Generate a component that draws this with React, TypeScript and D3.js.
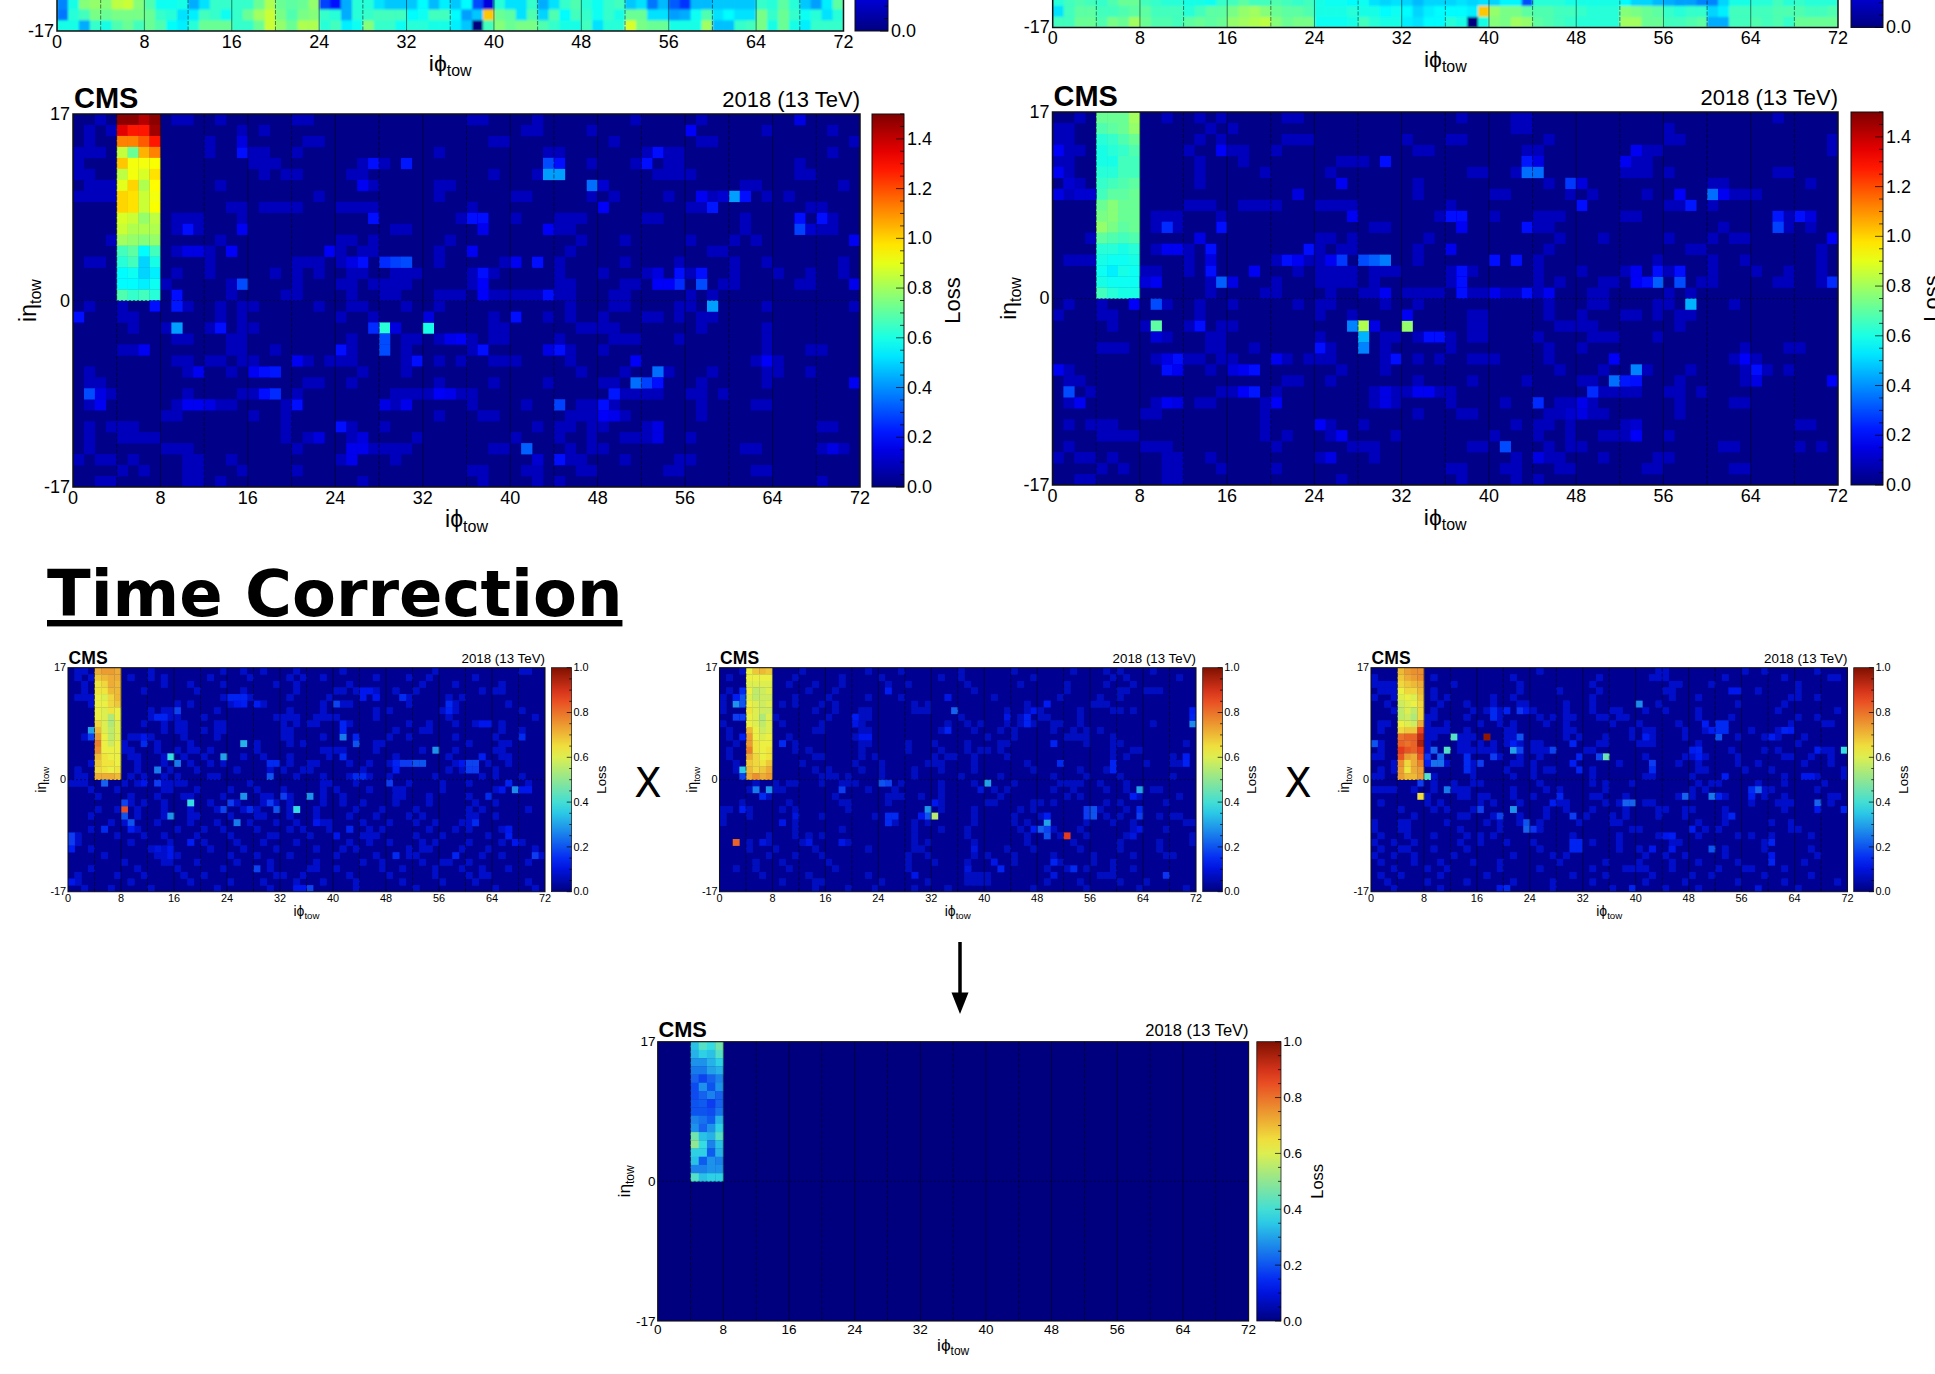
import React from "react";
import * as d3 from "d3";

type Cell = [number, number, number]; // iphi bin, row counted from the top, loss

const PHI_TICKS = [0, 8, 16, 24, 32, 40, 48, 56, 64, 72];
const ETA_TICKS = [17, 0, -17];
const GRID_PHI = d3.range(4, 72, 4);
const YEAR_LABEL = "2018 (13 TeV)";

// top strips: only the three lowest rows of these two maps are in the picture
const stripLeftRow33 = [.6,.6,.44,.64,.6,.68,.72,.66,.72,.68,.57,.54,.62,.72,.72,.72,.64,.64,.72,.86,.78,.72,.82,.82,.62,.66,.54,.58,.76,.64,.64,.58,.62,.62,.6,.6,.54,.48,0,.66,.76,.72,.74,.74,.68,.64,.6,.6,.66,.52,.62,.62,.88,.74,.72,.72,.6,.6,.6,.8,.47,.47,.64,.66,.74,.6,.72,.6,.54,.64,.64,.64];
const stripLeftRow32 = [.36,.62,.66,.74,.72,.74,.74,.74,.72,.64,.62,.52,.54,.66,.64,.58,.64,.72,.8,.86,.74,.68,.74,.76,.64,.62,.44,.62,.64,.66,.66,.66,.56,.58,.66,.66,.56,.42,.48,1.02,.72,.7,.52,.68,.5,.68,.56,.66,.64,.58,.64,.6,.72,.72,.52,.52,.42,.44,.58,.68,.52,.56,.52,.52,.74,.64,.72,.64,.58,.62,.52,.62];
const stripLeftRow31 = [.38,.6,.76,.78,.76,.84,.86,.76,.68,.58,.58,.6,.44,.52,.64,.64,.64,.64,.72,.82,.72,.7,.72,.78,.28,.2,.44,.62,.62,.52,.48,.48,.48,.56,.46,.54,.48,.56,.3,.14,.62,.52,.52,.64,.44,.52,.64,.68,.62,.58,.64,.66,.48,.52,.36,.46,.32,.26,.46,.46,.48,.48,.48,.48,.64,.62,.7,.62,.48,.42,.54,.7];

const stripRightRow33 = [.66,.66,.72,.72,.68,.74,.72,.8,.72,.68,.68,.66,.7,.72,.7,.72,.78,.8,.82,.84,.76,.72,.74,.74,.58,.58,.58,.6,.66,.62,.6,.6,.54,.52,.56,.56,.62,.6,0,.6,.76,.74,.8,.78,.7,.68,.66,.64,.62,.62,.62,.62,.8,.8,.72,.72,.66,.66,.68,.7,.44,.44,.66,.66,.68,.66,.68,.64,.72,.72,.72,.72];
const stripRightRow32 = [.52,.66,.7,.7,.66,.66,.68,.7,.7,.66,.66,.66,.62,.66,.7,.7,.74,.78,.8,.76,.72,.7,.7,.68,.6,.6,.6,.62,.6,.6,.56,.58,.56,.5,.54,.56,.56,.56,.54,1.02,.78,.74,.74,.7,.68,.68,.66,.66,.64,.62,.62,.62,.76,.74,.72,.7,.64,.62,.64,.64,.5,.54,.66,.66,.66,.66,.68,.68,.68,.66,.66,.68];
const stripRightRow31 = [.62,.66,.68,.66,.64,.68,.72,.72,.66,.64,.62,.62,.6,.6,.58,.64,.66,.7,.66,.66,.68,.66,.64,.66,.6,.58,.58,.56,.58,.52,.5,.52,.5,.46,.5,.5,.5,.52,.5,.52,.5,.55,.55,.3,.62,.62,.62,.6,.6,.6,.6,.6,.56,.5,.5,.46,.44,.42,.42,.38,.38,.5,.6,.6,.62,.62,.66,.62,.64,.62,.62,.62];

// the 4 x 17 block at iphi 4-8, eta 0-17, top row first
const blockA = [[1.48,1.48,1.42,1.48],[1.35,1.28,1.28,1.45],[1.12,1.12,1.18,1.28],[.85,.72,1.05,1.12],[1.02,.92,.92,.93],[.84,.92,.88,.98],[.9,1,.82,.94],[1,.98,.86,.92],[1,.98,.86,.93],[.88,.86,.78,.84],[.86,.82,.82,.82],[.8,.78,.76,.78],[.66,.7,.56,.66],[.62,.66,.5,.6],[.56,.58,.5,.54],[.56,.56,.54,.58],[.68,.64,.66,.62]];
const blockD = [[.72,.72,.72,.8],[.68,.7,.72,.78],[.62,.64,.68,.72],[.6,.62,.64,.68],[.6,.6,.66,.66],[.62,.62,.66,.66],[.64,.66,.68,.7],[.66,.7,.7,.72],[.72,.76,.72,.72],[.74,.76,.72,.72],[.78,.74,.7,.72],[.7,.68,.66,.68],[.62,.62,.6,.62],[.6,.58,.58,.6],[.58,.54,.6,.58],[.6,.58,.58,.58],[.66,.62,.6,.6]];
const blockB1 = [[.72,.74,.74,.72],[.68,.7,.72,.72],[.64,.66,.72,.7],[.64,.64,.7,.7],[.62,.6,.66,.7],[.62,.62,.66,.68],[.62,.6,.64,.62],[.62,.6,.54,.62],[.66,.6,.54,.6],[.7,.6,.56,.6],[.74,.62,.56,.6],[.78,.62,.58,.62],[.76,.62,.62,.62],[.7,.64,.62,.62],[.68,.64,.64,.62],[.66,.64,.62,.64],[.72,.72,.72,.7]];
const blockB2 = [[.62,.68,.7,.68],[.62,.62,.62,.62],[.6,.6,.6,.6],[.62,.56,.58,.6],[.6,.56,.58,.58],[.62,.6,.58,.6],[.64,.6,.58,.58],[.62,.6,.54,.6],[.62,.6,.56,.6],[.7,.62,.58,.6],[.74,.62,.6,.62],[.74,.64,.62,.62],[.78,.64,.62,.64],[.72,.66,.62,.64],[.68,.66,.64,.68],[.7,.66,.68,.72],[.72,.76,.72,.74]];
const blockB3 = [[.7,.74,.76,.76],[.68,.72,.74,.76],[.66,.68,.7,.72],[.62,.66,.66,.7],[.6,.62,.6,.68],[.58,.6,.62,.66],[.56,.6,.56,.66],[.56,.58,.54,.66],[.62,.6,.58,.72],[.66,.68,.68,.86],[.8,.82,.82,.92],[.82,.8,.82,.95],[.88,.84,.82,.88],[.84,.74,.72,.84],[.76,.66,.72,.78],[.74,.64,.72,.74],[.74,.7,.7,.74]];
const blockC = [[.34,.42,.38,.46],[.32,.36,.34,.42],[.28,.28,.32,.36],[.25,.25,.3,.32],[.22,.18,.22,.26],[.19,.28,.2,.28],[.19,.22,.26,.22],[.2,.21,.17,.22],[.2,.2,.19,.24],[.26,.24,.21,.32],[.28,.22,.28,.36],[.46,.34,.32,.42],[.5,.38,.26,.34],[.36,.36,.21,.32],[.34,.21,.28,.26],[.26,.26,.28,.28],[.42,.34,.36,.36]];

// cells that stand out from the dark background
const hotA: Cell[] = [[9,19,.42],[28,19,.62],[27,19,.25],[29,19,.14],[32,19,.6],[32,18,.14],[28,20,.3],[28,21,.3],[58,17,.42],[43,4,.3],[44,4,.2],[43,5,.42],[44,5,.42],[47,6,.35],[48,6,.12],[60,7,.42],[61,7,.2],[59,7,.12],[57,7,.17],[58,8,.22],[48,8,.18],[27,4,.2],[30,4,.22],[26,6,.17],[15,3,.2],[15,2,.14],[53,3,.2],[52,4,.2],[56,1,.18],[66,0,.15],[66,9,.2],[66,10,.28],[68,9,.2],[67,10,.12],[36,9,.2],[37,9,.2],[37,10,.16],[27,9,.2],[43,10,.18],[10,10,.2],[15,10,.17],[29,13,.28],[28,13,.25],[30,13,.3],[26,13,.2],[25,13,.15],[40,13,.17],[42,13,.2],[14,12,.18],[10,12,.15],[11,12,.15],[23,12,.18],[36,12,.17],[15,15,.3],[55,15,.25],[57,15,.3],[53,15,.18],[54,15,.18],[57,14,.2],[55,14,.2],[53,14,.14],[9,16,.2],[43,16,.2],[37,14,.2],[37,15,.18],[37,16,.18],[71,11,.17],[71,15,.16],[7,17,.2],[9,17,.22],[0,18,.2],[40,18,.2],[13,19,.2],[35,20,.18],[34,20,.16],[24,21,.2],[6,21,.17],[37,21,.2],[43,21,.15],[44,21,.2],[31,22,.2],[20,22,.17],[51,22,.18],[63,22,.18],[53,23,.35],[51,24,.35],[52,24,.28],[53,24,.2],[17,23,.2],[18,23,.22],[16,23,.17],[11,23,.17],[1,25,.3],[2,25,.15],[17,25,.2],[18,25,.25],[49,25,.22],[33,25,.18],[34,25,.16],[71,24,.17],[44,26,.28],[20,26,.2],[10,26,.17],[11,26,.17],[12,26,.15],[28,26,.15],[30,26,.16],[2,26,.17],[48,26,.2],[48,27,.18],[49,27,.16],[24,28,.2],[53,28,.15],[53,29,.15],[41,30,.33],[69,30,.15],[25,30,.16],[26,30,.16],[25,31,.16],[44,31,.2],[42,31,.12],[26,29,.14],[22,29,.14]];
const hotD: Cell[] = [[9,19,.7],[28,19,.82],[27,19,.38],[29,19,.15],[32,19,.78],[32,18,.17],[28,20,.45],[28,21,.38],[24,21,.2],[9,17,.3],[7,17,.18],[58,17,.45],[9,20,.13],[13,19,.2],[43,4,.22],[44,4,.15],[43,5,.35],[44,5,.35],[47,6,.27],[48,6,.14],[48,8,.2],[60,7,.35],[61,7,.17],[57,7,.18],[58,8,.22],[30,4,.2],[26,6,.17],[22,7,.14],[27,9,.17],[15,3,.18],[0,3,.18],[0,5,.17],[0,7,.15],[1,6,.12],[2,7,.12],[3,7,.12],[53,3,.17],[52,4,.17],[66,9,.22],[66,10,.28],[68,9,.2],[69,9,.14],[36,9,.2],[37,9,.2],[37,10,.17],[43,10,.2],[10,10,.25],[15,10,.2],[14,12,.2],[14,13,.14],[10,12,.17],[11,12,.17],[13,11,.15],[23,12,.2],[36,12,.16],[28,13,.3],[29,13,.33],[30,13,.37],[26,13,.27],[25,13,.17],[21,13,.2],[40,13,.2],[42,13,.2],[22,13,.17],[15,15,.33],[16,15,.15],[14,14,.2],[18,14,.17],[37,14,.2],[37,15,.2],[37,16,.2],[40,16,.16],[43,16,.2],[45,16,.17],[30,16,.17],[55,15,.33],[57,15,.3],[57,14,.2],[55,14,.2],[53,14,.17],[53,15,.18],[54,15,.2],[71,15,.25],[71,11,.18],[9,15,.17],[8,15,.13],[34,20,.2],[35,20,.2],[31,22,.2],[20,22,.17],[11,22,.2],[10,22,.15],[10,23,.2],[11,23,.17],[51,22,.18],[53,23,.38],[51,24,.35],[52,24,.22],[53,24,.2],[63,22,.18],[64,23,.2],[64,24,.15],[17,23,.17],[18,23,.2],[16,23,.14],[18,25,.22],[17,25,.18],[1,25,.3],[2,26,.17],[0,23,.17],[71,24,.18],[49,25,.25],[33,25,.17],[34,25,.17],[30,25,.15],[44,26,.25],[10,26,.17],[11,26,.15],[20,26,.18],[30,26,.15],[48,26,.16],[48,27,.15],[47,27,.12],[24,28,.18],[53,28,.12],[53,29,.18],[26,29,.17],[41,30,.3],[25,31,.15],[44,31,.15]];
const hotB1: Cell[] = [[3,9,.3],[3,10,.18],[5,17,.22],[8,21,.85],[8,20,.18],[8,22,.2],[9,23,.2],[5,24,.15],[9,24,.13],[15,13,.38],[16,14,.25],[13,15,.25],[13,17,.17],[11,17,.12],[18,20,.38],[15,22,.28],[23,13,.3],[26,11,.32],[26,19,.28],[24,20,.17],[23,21,.18],[25,23,.25],[31,21,.2],[30,20,.17],[34,21,.38],[36,19,.28],[32,19,.17],[27,21,.15],[30,16,.2],[30,14,.15],[31,14,.15],[16,6,.18],[13,7,.14],[14,7,.14],[11,11,.15],[11,10,.12],[24,4,.14],[25,4,.14],[26,4,.14],[25,5,.12],[26,5,.13],[28,5,.13],[40,5,.18],[41,10,.25],[41,9,.14],[41,8,.14],[43,11,.2],[43,10,.14],[41,13,.15],[43,16,.15],[44,16,.15],[48,17,.17],[50,4,.15],[44,3,.12],[45,3,.12],[46,4,.12],[44,4,.12],[50,14,.17],[51,14,.17],[52,14,.2],[53,14,.2],[49,14,.14],[49,15,.13],[55,12,.28],[57,5,.15],[57,6,.14],[60,14,.18],[61,14,.18],[60,15,.17],[61,15,.17],[59,14,.12],[62,13,.13],[62,8,.12],[63,8,.12],[67,18,.27],[66,17,.14],[68,18,.12],[69,18,.12],[65,18,.12],[63,19,.15],[68,10,.15],[70,28,.17],[0,25,.17],[0,26,.17],[0,27,.13],[0,32,.12],[49,28,.15],[58,28,.14],[28,30,.18],[36,33,.18],[34,33,.12],[35,33,.12],[61,23,.15],[37,23,.12],[42,24,.14],[40,25,.12],[66,25,.13],[66,24,.12],[67,26,.12],[18,26,.13],[15,27,.12],[15,28,.12],[13,27,.1]];
const hotB2: Cell[] = [[2,5,.28],[3,5,.2],[3,4,.2],[3,3,.15],[2,4,.13],[2,7,.17],[3,7,.17],[3,10,.13],[3,15,.35],[3,16,.18],[5,18,.25],[7,18,.28],[6,19,.15],[3,21,.13],[2,26,.82],[31,21,.28],[31,22,.2],[32,22,.55],[30,22,.12],[32,20,.12],[40,17,.3],[39,18,.1],[24,17,.2],[25,17,.18],[18,18,.17],[35,6,.22],[71,8,.27],[71,7,.14],[71,6,.13],[63,18,.3],[62,19,.13],[49,23,.3],[48,24,.22],[49,24,.18],[49,25,.2],[47,24,.13],[49,22,.13],[52,25,.88],[55,21,.17],[56,21,.2],[55,22,.17],[56,22,.2],[63,21,.15],[63,22,.17],[25,22,.15],[25,23,.15],[26,22,.15],[9,11,.15],[51,14,.15],[59,14,.14],[59,15,.14],[70,14,.14],[70,13,.13],[20,7,.13],[21,10,.12],[22,10,.12],[20,8,.11],[46,7,.14],[46,8,.14],[47,6,.12],[43,7,.11],[49,5,.13],[50,11,.14],[34,9,.14],[34,4,.11],[25,3,.13],[53,30,.15],[50,29,.14],[42,30,.14],[41,29,.11],[67,31,.16],[37,30,.1],[29,31,.11],[38,27,.1],[50,31,.1],[62,25,.1],[63,24,.11],[13,26,.11],[18,26,.11],[6,26,.1],[9,23,.11],[11,22,.1]];
const hotB3: Cell[] = [[12,10,.42],[17,10,.98],[11,12,.42],[8,16,.42],[7,19,.65],[7,17,.17],[11,18,.25],[9,12,.22],[8,13,.16],[10,13,.22],[9,14,.24],[10,14,.24],[8,14,.13],[21,12,.3],[22,12,.18],[22,10,.2],[21,11,.13],[35,13,.45],[34,13,.18],[27,12,.18],[18,13,.17],[16,14,.17],[14,13,.15],[14,14,.15],[14,15,.15],[40,5,.27],[71,12,.38],[0,11,.2],[52,10,.2],[52,8,.15],[53,8,.15],[52,9,.15],[53,9,.15],[50,8,.13],[51,9,.13],[55,3,.12],[54,3,.12],[18,6,.15],[18,7,.15],[20,6,.14],[22,6,.16],[23,6,.12],[21,21,.28],[16,21,.18],[19,22,.18],[23,23,.2],[23,24,.22],[24,24,.16],[30,22,.17],[28,19,.14],[27,20,.13],[38,20,.22],[39,20,.22],[47,19,.22],[51,19,.25],[52,19,.14],[58,18,.22],[57,18,.15],[57,19,.13],[67,20,.22],[67,21,.12],[71,21,.14],[51,27,.2],[42,27,.12],[60,29,.14],[60,28,.12],[60,26,.14],[30,26,.14],[31,26,.14],[30,27,.14],[31,27,.14],[20,33,.15],[19,33,.12],[39,33,.14],[58,33,.1],[42,14,.17],[42,15,.15],[31,13,.14],[31,15,.14],[30,11,.14],[30,14,.13],[41,10,.13],[48,12,.13],[49,12,.14],[49,13,.13],[53,16,.13],[67,12,.13],[65,16,.12],[66,16,.12],[54,22,.14],[62,9,.14],[60,10,.13],[63,9,.13],[44,25,.12],[45,25,.13],[45,27,.12],[48,24,.13]];

// weak cells, iphi bins per row from the top; all sit just above the background
const faintA = [[2,9,10,13,20,21,36,37,42,51,57],[1,3,15,17,41,42,47,63,69],[1,12,21,22,38,39,49,57,58,71],[0,1,2,12,16,17,20,33,43,44,52,54,55,69],[0,16,17,18,26,28,47,51,54,55,66],[0,1,17,19,20,25,26,38,42,53,54,55,56,66,67],[1,2,3,13,27,33,34,61,62,70],[0,1,2,3,22,33,40,41,47,49,54,58,63,65],[14,15,17,18,19,20,24,25,26,27,36,56,57,67,68],[9,10,11,15,35,40,44,45,46,52,53,61,69],[9,11,29,30,44,45,61,68,69],[3,13,24,25,27,34,46,50,56,60,62],[9,12,24,26,27,33,45,58,59],[1,2,12,20,21,22,24,33,39,44,50,55,60,63,70],[9,12,18,20,22,25,26,29,30,31,36,38,44,48,52,56,60,64,67,70],[8,14,20,24,25,27,28,29,30,36,44,45,50,51,59,60,66,67],[14,19,20,25,28,29,33,34,35,38,39,40,41,42,44,45,49,50,56,58],[1,4,10,13,15,16,22,25,26,30,33,45,49,50,55,56,63,71],[4,5,13,15,24,27,38,43,45,48,52,53,55,57,58],[5,8,12,15,16,38,39,46,47,48,49,57,63],[9,10,14,15,25,30,31,33,36,38,39,44,49,50,51,55,63],[4,5,14,15,18,25,30,36,45,48,63,67,68],[9,10,12,13,15,16,21,23,24,25,30,33,35,38,39,40,45,62,64],[1,10,14,26,30,46,50,54,58,63,64,67],[1,2,21,22,25,33,38,43,48,49,57,63],[3,10,15,16,20,29,30,31,32,35,36,50,51,52,53,56,57,59],[1,9,13,14,19,29,36,41,46,47,49,57,62,63],[8,9,16,19,33,37,38,45,46,47,50,57],[1,3,4,5,19,25,28,42,44,45,47,48,52,68,69],[1,4,5,6,7,19,21,25,31,40,44,47,50,51,52,56],[1,8,9,10,20,27,28,29,30,38,39,45,47,48,61,62,68,70],[0,2,3,5,10,11,14,24,29,45,46,50,55,56],[4,6,10,11,15,20,36,37,41,42,46,47,54,55,62,63],[2,3,10,11,13,26,37,42,44,68]];
const faintD = [[2,10,13,15,21,22,37,42,43,66],[0,1,14,16,42,43,56],[0,1,13,15,21,22,23,32,36,37,45,56,57,71],[1,2,12,16,17,20,33,34,43,44,54,55,71],[0,1,13,17,26,27,28,43,44,53,54],[1,13,19,25,38,39,42,52,53,54,56,66,67],[1,2,13,33,45,60,61,69],[1,2,22,33,40,41,47,49,54,62,63,64],[12,13,14,17,18,19,20,24,25,26,27,36,56,57,60],[9,10,11,15,35,40,44,45,46,52,53,67],[9,11,29,30,44,45,61,67,69],[3,24,25,27,34,46,50,56,60,62,63],[9,12,24,26,27,33,45,58,59,70],[1,2,3,12,20,23,24,33,44,55,60,63,70],[8,9,12,22,24,25,26,27,29,30,31,36,38,44,48,52,56,60,64,67,70],[14,20,24,25,26,27,29,36,44,46,50,51,59,60,66,67,70],[14,19,20,25,28,29,32,33,34,35,38,39,41,42,44,49,50,56,58],[1,4,10,13,16,22,24,25,30,33,45,49,50,55,56,62],[0,4,5,13,24,27,38,39,45,48,52,53,55,57,58],[5,8,12,15,16,38,39,46,47,48,49,57],[10,14,15,24,30,31,33,36,38,39,44,49,50,51,55],[4,5,6,14,15,18,25,30,36,45,48,63,67,68],[9,12,13,15,16,21,23,24,25,30,33,35,38,39,40,45,62,64],[1,14,26,30,46,50,54,58,63,65,67],[1,2,21,22,25,33,38,43,48,49,57,63],[3,15,16,20,29,31,32,35,36,50,51,52,53,56,57,59],[1,9,13,14,19,29,31,36,41,46,47,49,57,62,63],[8,9,19,33,37,38,45,46,49,50,57],[1,3,4,5,19,25,28,42,44,45,47,52,68,69],[4,5,6,7,19,21,25,31,40,44,47,50,51,52,56],[1,8,9,10,20,27,28,29,38,39,45,47,48,61,62,68,70],[0,2,3,5,10,11,14,24,29,42,45,46,50,55,56],[4,6,10,11,15,20,36,37,41,42,46,47,54,55,62,63],[2,3,10,11,26,37,42,44]];
const faintB1 = [[1,2,12,23,26,29,34,41,55,68,69],[1,3,9,12,14,21,27,33,35,38,46,51,54,61],[2,14,18,23,31,34,42,53,58,65],[2,11,19,26,34,40,41,43,46,49,52,62,65,64],[1,2,3,23,27,33,39,46,51,57,59],[3,16,18,24,29,38,41,42,51,58,66],[12,14,15,22,33,38,46,48,56,58,68],[12,15,16,20,31,32,33,34,37,38,39,40,46,57,70],[11,14,16,17,22,23,32,34,36,37,42,51,54,58,61,65],[14,16,17,20,22,23,32,33,49,53,54,65,68],[2,9,10,12,17,22,32,33,38,48,51,58,64],[4,8,13,18,28,33,35,46,47,60,65,66],[8,9,13,16,18,19,21,28,38,39,40,41,46,53,58,64,65],[9,10,14,17,20,26,29,33,39,49,57,65,66],[3,10,14,18,21,23,33,36,37,42,45,48,58,63,66],[1,10,15,19,25,30,32,35,36,44,57,59,64],[1,2,9,11,14,16,21,22,34,38,42,45,48,55,62,64,68],[0,1,2,8,10,14,15,16,17,27,38,39,43,51,56,60,69],[3,7,14,15,19,24,28,32,38,40,45,49,50,56,64,69],[4,9,13,17,18,23,29,30,33,38,41,49,50,54,60],[9,11,14,21,25,29,31,33,38,41,44,49,54,61,64],[4,7,10,14,18,22,26,28,33,37,43,47,52,60,62,69],[3,10,14,18,19,24,28,29,33,37,42,46,51,53,60,61,64],[6,8,13,18,22,27,31,34,38,39,44,48,52,55,59,60],[3,10,16,20,23,28,33,35,39,45,47,54,58,60,65],[1,7,11,14,19,24,30,31,36,44,45,46,52,56,63],[1,9,15,20,25,29,34,42,45,48,53,55,60,65,68],[3,12,13,14,21,26,31,37,41,43,51,53,54,59,63,70],[5,13,14,16,24,28,33,40,46,51,52,62,65,71],[8,14,15,19,25,30,37,44,47,53,56,57,60,69],[3,10,16,23,30,36,37,40,47,50,55,59,62,66],[1,7,11,17,20,31,32,35,42,48,55,60,62,63],[1,9,18,24,29,34,38,43,50,56,61,69],[2,6,12,22,30,43,52,64,70]];
const faintB2 = [[3,12,22,27,36,44,53,58,60,65],[1,11,18,24,33,36,47,59,61,69],[10,14,18,25,28,37,45,52,58,62],[1,13,17,38,52,60,61,64,65,66],[0,11,16,22,27,41,51,57,60],[0,9,11,15,17,29,31,46,56,57,58],[0,14,17,21,22,29,30,31,43,46,48,54,59,60,62],[8,16,21,22,36,45,48,49,54],[0,9,15,21,34,37,39,43,45,47,50,51,54,65],[1,7,14,15,21,22,33,38,42,44,50,53,55,57],[1,10,20,40,44,52,53,54,55,59],[2,11,21,22,28,32,37,42,43,55,59,60,70],[1,11,13,21,28,33,37,39,40,42,59,62,63],[1,14,15,21,23,32,34,35,38,43,59,61,68],[2,12,20,24,31,32,33,38,46,64,68,69],[2,14,16,21,24,29,33,38,47,54,58],[15,16,17,19,24,29,36,42,50,55,60,68],[5,8,10,11,15,18,19,20,27,33,38,44,51,52,53,54,57,61],[4,8,9,22,26,33,41,43,50,53,58,61,65,66],[7,17,25,26,27,30,33,42,52,54,63,69],[3,10,18,19,25,33,40,41,47,48,50,58,60,67],[0,1,4,9,11,19,33,38,45,47,57,61],[0,4,15,23,38,44,48,58,60,66,68,69],[0,11,26,29,31,38,44,46,55,59,62,70,71],[11,18,29,33,37,45,50,54,62,67],[7,11,13,15,29,37,46,51,55,61,71],[4,7,12,19,29,31,38,46,53,60,66,71],[4,8,14,22,29,30,43,47,54,60,66],[7,11,15,28,31,38,40,44,50,56,62,67,68],[5,9,16,28,32,37,44,51,56,59],[2,5,10,17,28,49,52,55,59,62],[6,13,22,37,38,39,40,57,58,59],[9,14,15,24,31,37,38,39,40,49,54,60,64],[14,19,23,29,34,47,55,63,70]];
const faintB3 = [[25,43,44,56,59,67],[0,9,21,34,42,43,44,53,62,69,70],[0,1,2,3,12,22,33,45,46,51,64],[1,2,3,9,22,28,34,44,45,58,64],[0,3,9,11,18,21,33,45,49,63,64,67],[2,10,14,18,22,23,29,33,43,55,62],[3,9,15,17,19,24,29,33,36,37,41,44,49,61,70],[8,9,14,19,25,27,29,30,34,35,37,38,49,54,64,67],[1,2,8,11,16,19,21,26,29,36,40,46,63,68,69],[1,8,9,10,11,14,20,21,29,30,39,41,42,47,50,57,61],[8,9,13,14,15,20,21,29,31,35,39,42,47,55,59,61,65],[1,8,13,14,16,18,20,22,24,25,34,35,40,41,42,49,64],[1,8,13,14,15,16,17,18,24,25,26,32,33,54,59,61,68,69],[0,1,19,22,25,41,47,48,50,55,62,63,66,69],[3,11,15,21,22,24,37,46,49,55,58,65,69],[1,3,15,20,24,26,27,33,49,50,56,60,71],[0,1,9,15,21,24,33,41,42,48,62,67,71],[9,12,15,16,25,33,35,39,49,51,52,58,62,68],[0,1,2,3,6,9,12,13,14,21,26,28,35,48,50,59,60,67],[8,13,14,16,17,21,24,33,34,38,46,48,53,59,62,69,70],[1,8,10,16,18,22,28,29,35,37,41,42,57,61,62,63,69],[4,9,11,15,26,29,33,38,43,44,47,48,53,62],[6,13,14,18,22,26,32,36,38,43,47,53],[0,4,5,11,17,19,22,25,31,36,37,49,53,60,63],[0,4,5,13,19,25,39,40,50,52,63,64],[1,5,9,14,16,18,30,37,43,49,55,57,60,66],[0,3,6,13,16,20,24,33,37,45,46,59],[1,4,5,9,14,25,37,40,53,59,66],[0,3,6,12,21,27,29,41,44,47,53,67],[1,6,10,15,19,28,35,40,45,49,55,65],[3,8,11,19,25,33,38,39,40,41,45,52,56,57,62],[1,4,10,17,30,35,42,48,51,59,66],[2,8,14,21,27,33,41,47,55,62,70],[3,10,27,36,44,49,64]];

function stripCells(rows: number[][]): Cell[] {
  return rows.flatMap((vals, i) => vals.map((v, phi) => [phi, 33 - i, v] as Cell));
}

function blockCells(block: number[][]): Cell[] {
  return block.flatMap((vals, r) => vals.map((v, c) => [4 + c, r, v] as Cell));
}

function faintCells(rows: number[][], loss: number): Cell[] {
  return rows.flatMap((phis, r) => phis.map((phi) => [phi, r, loss] as Cell));
}

const JET_STOPS = [0, 0.125, 0.375, 0.625, 0.875, 1];
const jet = d3
  .scaleLinear<string>()
  .domain(JET_STOPS)
  .range(["#00007f", "#0000ff", "#00ffff", "#ffff00", "#ff0000", "#7f0000"])
  .clamp(true);
// the 0-1 maps were pasted in smaller and look paler
const softJet = d3
  .scaleLinear<string>()
  .domain(JET_STOPS)
  .range(["#00007f", "#0018f4", "#30dce4", "#f0f040", "#e83c20", "#7f1000"])
  .clamp(true);

const FONT = "'Liberation Sans', Arial, sans-serif";

interface MapProps {
  id: string;
  left: number;
  right: number;
  top: number;
  bottom: number;
  barLeft: number;
  barRight: number;
  zMax: number;
  base: number;
  cells: Cell[];
  showHeader?: boolean;
  blur?: number;
}

function LossMap(p: MapProps) {
  const k = (p.right - p.left) / 787;
  const palette = p.zMax === 1 ? softJet : jet;
  const x = d3.scaleLinear().domain([0, 72]).range([p.left, p.right]);
  const y = d3.scaleLinear().domain([17, -17]).range([p.top, p.bottom]);
  const z = d3.scaleLinear().domain([0, p.zMax]).range([p.bottom, p.top]);
  const color = (v: number) => palette(v / p.zMax);
  const zTicks = d3.range(0, p.zMax + 0.001, 0.2);
  const zMinor = d3.range(0, p.zMax + 0.001, 0.05);
  const stops = d3.range(0, 1.001, 0.05);
  const tickSize = 18 * k;
  const midY = y(0);
  const midX = (p.left + p.right) / 2;
  const onPage = midY > 0; // the two strips at the top only show their lowest rows

  return (
    <g fontFamily={FONT} fill="#000">
      <defs>
        <clipPath id={`clip-${p.id}`}>
          <rect x={p.left} y={p.top} width={p.right - p.left} height={p.bottom - p.top} />
        </clipPath>
        <filter id={`soft-${p.id}`} x="-2%" y="-2%" width="104%" height="104%">
          <feGaussianBlur stdDeviation={p.blur ?? 0.6} />
        </filter>
        <linearGradient id={`bar-${p.id}`} x1="0" x2="0" y1="1" y2="0">
          {stops.map((s) => (
            <stop key={s} offset={s} stopColor={palette(s)} />
          ))}
        </linearGradient>
      </defs>

      <g clipPath={`url(#clip-${p.id})`}>
        <g filter={`url(#soft-${p.id})`}>
          <rect x={p.left - 5} y={p.top - 5} width={p.right - p.left + 10} height={p.bottom - p.top + 10} fill={color(p.base)} />
          {p.cells.map(([phi, row, v], i) => (
            <rect
              key={i}
              x={x(phi)}
              y={y(17 - row)}
              width={x(phi + 1) - x(phi) + 0.3}
              height={y(16 - row) - y(17 - row) + 0.3}
              fill={color(v)}
            />
          ))}
        </g>
        {GRID_PHI.map((t) => (
          <line
            key={t}
            x1={x(t)}
            x2={x(t)}
            y1={p.top}
            y2={p.bottom}
            stroke="#000"
            strokeOpacity={0.5}
            strokeWidth={1}
            strokeDasharray={t % 8 === 0 ? undefined : "4 1.5"}
          />
        ))}
        <line x1={p.left} x2={p.right} y1={midY} y2={midY} stroke="#000" strokeOpacity={0.5} strokeDasharray="2 2" />
      </g>
      <rect x={p.left} y={p.top} width={p.right - p.left} height={p.bottom - p.top} fill="none" stroke="#111" strokeWidth={1.5 * Math.max(k, 0.7)} />

      {PHI_TICKS.map((t) => (
        <text key={t} x={x(t)} y={p.bottom + 17 * k} textAnchor="middle" fontSize={tickSize}>
          {t}
        </text>
      ))}
      {ETA_TICKS.filter((t) => y(t) > 0).map((t) => (
        <text key={t} x={p.left - 3 * k} y={y(t) + 6 * k} textAnchor="end" fontSize={tickSize}>
          {t}
        </text>
      ))}

      <text x={midX} y={p.bottom + 40 * k} textAnchor="middle" fontSize={23 * k}>
        iϕ<tspan fontSize={16 * k} dy={5 * k}>tow</tspan>
      </text>
      {onPage && (
        <text transform={`translate(${p.left - 37 * k},${midY}) rotate(-90)`} textAnchor="middle" fontSize={23 * k}>
          iη<tspan fontSize={16 * k} dy={5 * k}>tow</tspan>
        </text>
      )}

      {p.showHeader !== false && (
        <>
          <text x={p.left + 1 * k} y={p.top - 6 * k} fontSize={29 * k} fontWeight="bold">
            CMS
          </text>
          <text x={p.right} y={p.top - 7 * k} textAnchor="end" fontSize={22 * k}>
            {YEAR_LABEL}
          </text>
        </>
      )}

      <rect x={p.barLeft} y={p.top} width={p.barRight - p.barLeft} height={p.bottom - p.top} fill={`url(#bar-${p.id})`} stroke="#111" strokeWidth={Math.max(k, 0.7)} />
      {zMinor.map((t) => (
        <line
          key={t}
          x1={p.barRight}
          x2={p.barRight - (Math.round(t * 100) % 20 === 0 ? 8 : 4) * k}
          y1={z(t)}
          y2={z(t)}
          stroke="#000"
          strokeOpacity={0.7}
        />
      ))}
      {zTicks.filter((t) => z(t) > 0).map((t) => (
        <text key={t} x={p.barRight + 3 * k} y={z(t) + 6 * k} fontSize={tickSize}>
          {t.toFixed(1)}
        </text>
      ))}
      {onPage && (
        <text transform={`translate(${p.barRight + 56 * k},${(p.top + p.bottom) / 2}) rotate(-90)`} textAnchor="middle" fontSize={22 * k}>
          Loss
        </text>
      )}
    </g>
  );
}

export default function App() {
  const arrowY = d3.scaleLinear().domain([0, 1]).range([942, 1014]);
  const arrow = d3.line()([[960, arrowY(0)], [960, arrowY(0.75)]]) as string;
  const head = d3.line()([[951.5, arrowY(0.7)], [968.5, arrowY(0.7)], [960, arrowY(1)]]) as string;

  return (
    <svg width={1935} height={1374} viewBox="0 0 1935 1374" style={{ position: "absolute", left: 0, top: 0, background: "#fff" }}>
      <LossMap id="t1" left={57} right={843.5} top={-342} bottom={31} barLeft={855} barRight={888} zMax={1.5} base={0.55} cells={stripCells([stripLeftRow33, stripLeftRow32, stripLeftRow31])} showHeader={false} blur={0.8} />
      <LossMap id="t2" left={1052.7} right={1838} top={-346} bottom={27.5} barLeft={1851} barRight={1883} zMax={1.5} base={0.55} cells={stripCells([stripRightRow33, stripRightRow32, stripRightRow31])} showHeader={false} blur={0.8} />

      <LossMap id="a" left={73} right={860} top={114} bottom={487} barLeft={872} barRight={904} zMax={1.5} base={0.015} cells={[...faintCells(faintA, 0.09), ...blockCells(blockA), ...hotA]} />
      <LossMap id="d" left={1052.5} right={1838} top={112} bottom={485} barLeft={1851} barRight={1883} zMax={1.5} base={0.015} cells={[...faintCells(faintD, 0.09), ...blockCells(blockD), ...hotD]} />

      <text x={47} y={616} fontFamily="'DejaVu Sans', sans-serif" fontWeight="bold" fontSize={64} textDecoration="underline">
        Time Correction
      </text>

      <LossMap id="b1" left={68} right={545} top={667.7} bottom={891.7} barLeft={551.4} barRight={571.6} zMax={1} base={0.02} cells={[...faintCells(faintB1, 0.08), ...blockCells(blockB1), ...hotB1]} blur={0.6} />
      <LossMap id="b2" left={719.5} right={1196} top={667.7} bottom={891.7} barLeft={1202.7} barRight={1222.5} zMax={1} base={0.02} cells={[...faintCells(faintB2, 0.07), ...blockCells(blockB2), ...hotB2]} blur={0.6} />
      <LossMap id="b3" left={1371} right={1847.5} top={667.7} bottom={891.7} barLeft={1853.7} barRight={1873.7} zMax={1} base={0.02} cells={[...faintCells(faintB3, 0.08), ...blockCells(blockB3), ...hotB3]} blur={0.6} />

      <text x={648} y={797} textAnchor="middle" fontFamily="'DejaVu Sans', sans-serif" fontSize={40}>X</text>
      <text x={1298} y={797} textAnchor="middle" fontFamily="'DejaVu Sans', sans-serif" fontSize={40}>X</text>

      <path d={arrow} stroke="#000" strokeWidth={3.5} fill="none" />
      <path d={head} fill="#000" />

      <LossMap id="c" left={657.7} right={1248.6} top={1041.7} bottom={1321} barLeft={1256.8} barRight={1281} zMax={1} base={0} cells={blockCells(blockC)} blur={0.7} />
    </svg>
  );
}
